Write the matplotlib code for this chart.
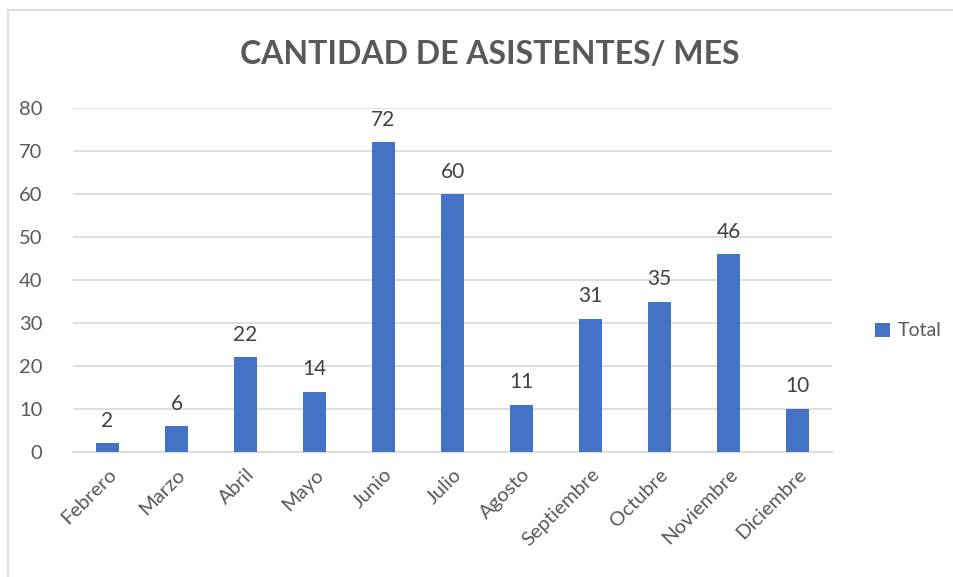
import numpy as np
import matplotlib.pyplot as plt
from matplotlib.patches import Rectangle

plt.rcParams['font.family'] = ['Lato', 'DejaVu Sans']

# ====================================
# Data
# ====================================
meses = ['Febrero', 'Marzo', 'Abril', 'Mayo', 'Junio', 'Julio', 'Agosto',
         'Septiembre', 'Octubre', 'Noviembre', 'Diciembre']
total = [2, 6, 22, 14, 72, 60, 11, 31, 35, 46, 10]
yticks = [0, 10, 20, 30, 40, 50, 60, 70, 80]

bar_color = '#4472C4'
text_color = '#595959'
grid_color = '#D9D9D9'

# ====================================
# Figure
# ====================================
W, H = 954, 577
fig = plt.figure(figsize=(W/100, H/100), dpi=100)
ax = fig.add_axes([73/W, 1-452/H, (832-73)/W, (452-108)/H])

x = np.arange(len(meses))
bars = ax.bar(x, total, width=0.32, color=bar_color, label='Total', zorder=3)

for xi, v in zip(x, total):
    ax.annotate(str(v), (xi, v), xytext=(0, 9), textcoords='offset points',
                ha='center', va='bottom', fontsize=15, color='#404040')

ax.set_xlim(-0.5, len(meses)-0.5)
ax.set_ylim(0, 80)
ax.set_yticks(yticks)
ax.yaxis.grid(True, color=grid_color, linewidth=1.2, zorder=0)
ax.set_xticks(x)
ax.set_xticklabels(meses, rotation=45, ha='right', rotation_mode='anchor',
                   fontsize=14.5, color=text_color)
ax.tick_params(axis='y', labelsize=14.5, labelcolor=text_color, length=0, pad=22)
ax.tick_params(axis='x', length=0, pad=10)
for s in ['top', 'right', 'left']:
    ax.spines[s].set_visible(False)
ax.spines['bottom'].set_color(grid_color)
ax.spines['bottom'].set_linewidth(1.2)

fig.text(490/W, 1-55/H, 'CANTIDAD DE ASISTENTES/ MES', ha='center', va='center',
         fontsize=23, fontweight='bold', color=text_color)

ax.legend(loc='center left', bbox_to_anchor=(858/W, 1-331/H),
          bbox_transform=fig.transFigure, frameon=False, fontsize=14,
          handlelength=0.75, handleheight=0.75, handletextpad=0.4,
          labelcolor=text_color)

# chart border
fig.patches.append(Rectangle((8/W, -0.01), 1.1, 1-10/H+0.01,
                             transform=fig.transFigure, fill=False,
                             edgecolor='#D9D9D9', linewidth=1.2))

fig.savefig('out.png', dpi=100)
